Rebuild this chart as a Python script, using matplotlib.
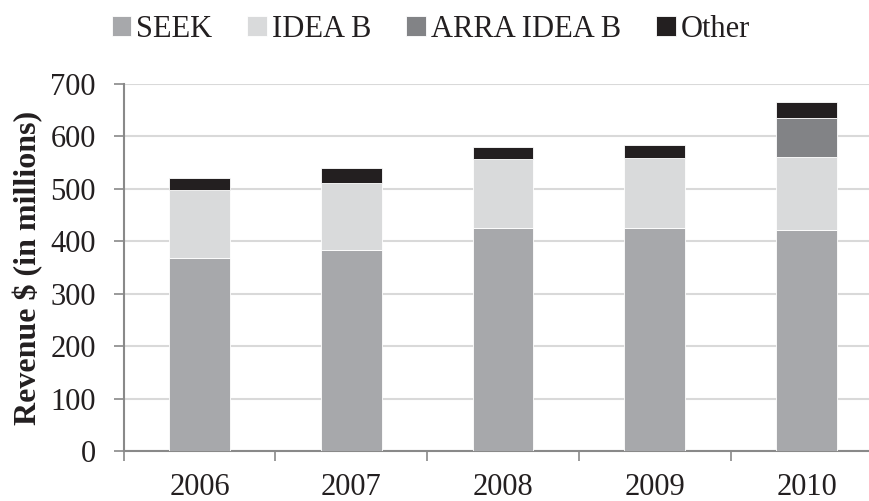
import matplotlib
matplotlib.use("Agg")
import matplotlib.pyplot as plt
import numpy as np

years = ["2006", "2007", "2008", "2009", "2010"]
seek = [369, 383, 425, 425, 421]
idea_b = [129, 129, 132, 134, 140]
arra_idea_b = [0, 0, 0, 0, 75]
other = [23, 28, 23, 25, 30]

plt.rcParams['font.family'] = ['Liberation Serif', 'DejaVu Serif']

fig = plt.figure(figsize=(8.7, 5.01), dpi=100)
ax = fig.add_axes([0.142, 0.0998, 0.8724, 0.7325])

x = np.arange(len(years))
w = 0.4
edge = dict(edgecolor='white', linewidth=0.6)
b1 = ax.bar(x, seek, w, color='#a7a8ab', label='SEEK', zorder=3, **edge)
bottom = np.array(seek)
b2 = ax.bar(x, idea_b, w, bottom=bottom, color='#d9dadb', label='IDEA B', zorder=3, **edge)
bottom = bottom + np.array(idea_b)
b3 = ax.bar(x, arra_idea_b, w, bottom=bottom, color='#828386', label='ARRA IDEA B', zorder=3, **edge)
bottom = bottom + np.array(arra_idea_b)
b4 = ax.bar(x, other, w, bottom=bottom, color='#231f20', label='Other', zorder=3, **edge)

ax.set_xlim(-0.5, 4.5)
ax.set_ylim(0, 700)
ax.set_yticks(range(0, 701, 100))
ax.yaxis.grid(True, color='#d9d9d9', linewidth=1.5, zorder=0)
ax.set_axisbelow(True)

ax.set_xticks(x)
ax.set_xticklabels(years)
ax.set_xticks(np.arange(-0.5, 4.6, 1), minor=True)
ax.tick_params(axis='x', which='major', length=0, labelsize=22, pad=16, colors='#231f20')
ax.tick_params(axis='x', which='minor', length=7, width=1.2, color='#898989')
ax.tick_params(axis='y', length=7, width=1.2, color='#898989', labelsize=22, pad=13, labelcolor='#231f20')

for s in ['top', 'right']:
    ax.spines[s].set_visible(False)
for s in ['left', 'bottom']:
    ax.spines[s].set_color('#898989')
    ax.spines[s].set_linewidth(1.5)

ax.set_ylabel('Revenue $ (in millions)', fontsize=23, fontweight='bold', color='#231f20', labelpad=5)

fig.legend(handles=[b1, b2, b3, b4], loc='upper center', bbox_to_anchor=(0.495, 1.025),
           ncol=4, frameon=False, fontsize=22, handlelength=0.65, handleheight=0.65,
           handletextpad=0.15, columnspacing=1.15, labelcolor='#231f20')

fig.savefig('out.png', dpi=100)
